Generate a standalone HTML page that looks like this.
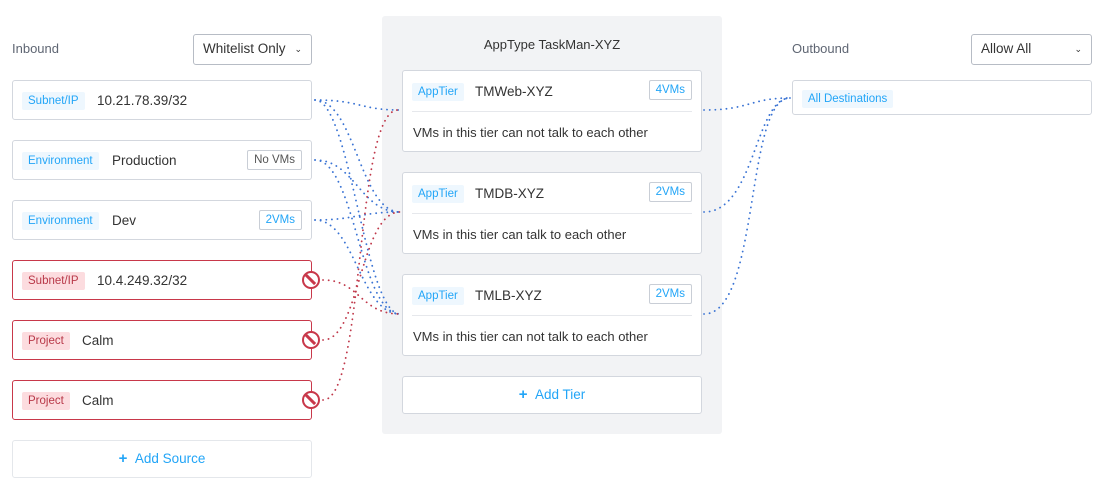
<!DOCTYPE html>
<html><head><meta charset="utf-8"><style>
*{box-sizing:border-box;margin:0;padding:0}
body{width:1105px;height:492px;background:#fff;font-family:"Liberation Sans",sans-serif;color:#333;position:relative;overflow:hidden}
.abs{position:absolute}
.lbl{font-size:13px;color:#5f6673}
.dd{border:1px solid #b7bcc5;border-radius:3px;background:#fff;font-size:13.5px;color:#333;padding:0 0 0 9px;line-height:28px}
.dd span{position:absolute;right:9px;top:0;font-size:9px}
.box{border:1px solid #d3d7de;border-radius:3px;background:#fff;height:40px}
.box.red{border-color:#c8384a}
.tag{position:absolute;left:9px;top:11px;height:18px;line-height:19px;font-size:11.5px;padding:0 6px;border-radius:2px;background:#eef7fe;color:#22a5f7}
.red .tag{background:#fcdcdf;color:#b83848}
.txt{position:absolute;top:11px;font-size:13.5px;color:#333;line-height:17px}
.cnt{position:absolute;right:9px;top:9px;height:20px;line-height:19px;font-size:11.5px;padding:0 6px;border:1px solid #c9ced6;border-radius:2px;color:#22a5f7}
.ban{position:absolute;right:-9px;top:10px;width:18px;height:18px;border-radius:50%;border:2.5px solid #c8384a;background:#fff}
.ban:after{content:"";position:absolute;left:0;top:5px;width:13px;height:3px;background:#c8384a;transform:rotate(45deg)}
.add{border:1px solid #e4e7eb;border-radius:3px;background:#fff;text-align:center;color:#22a5f7;font-size:13.5px}
.tier{position:absolute;left:402px;width:300px;height:82px;border:1px solid #d3d7de;border-radius:3px;background:#fff}
.tier .tag{left:9px;top:12px}
.tier .txt{left:72px;top:12px}
.tier .cnt{top:9px}
.tier .hr{position:absolute;left:9px;right:9px;top:40px;border-top:1px solid #e6e8ec}
.tier .desc{position:absolute;left:10px;top:54px;font-size:13px;color:#333}
</style></head><body>
<div class="abs lbl" style="left:12px;top:41px">Inbound</div>
<div class="abs dd" style="left:193px;top:34px;width:119px;height:31px">Whitelist Only<span>&#8964;</span></div>

<div class="abs box" style="left:12px;top:80px;width:300px"><div class="tag">Subnet/IP</div><div class="txt" style="left:84px">10.21.78.39/32</div></div>
<div class="abs box" style="left:12px;top:140px;width:300px"><div class="tag">Environment</div><div class="txt" style="left:99px">Production</div><div class="cnt" style="color:#555">No VMs</div></div>
<div class="abs box" style="left:12px;top:200px;width:300px"><div class="tag">Environment</div><div class="txt" style="left:99px">Dev</div><div class="cnt">2VMs</div></div>
<div class="abs box red" style="left:12px;top:260px;width:300px"><div class="tag">Subnet/IP</div><div class="txt" style="left:84px">10.4.249.32/32</div><div class="ban"></div></div>
<div class="abs box red" style="left:12px;top:320px;width:300px"><div class="tag">Project</div><div class="txt" style="left:69px">Calm</div><div class="ban"></div></div>
<div class="abs box red" style="left:12px;top:380px;width:300px"><div class="tag">Project</div><div class="txt" style="left:69px">Calm</div><div class="ban"></div></div>
<div class="abs add" style="left:12px;top:440px;width:300px;height:38px;line-height:36px"><b style="font-size:15px">+</b>&nbsp;&nbsp;Add Source</div>

<div class="abs" style="left:382px;top:16px;width:340px;height:418px;background:#f2f3f5;border-radius:3px"></div>
<div class="abs" style="left:382px;top:37px;width:340px;text-align:center;font-size:13px;color:#333">AppType TaskMan-XYZ</div>
<div class="tier" style="top:70px"><div class="tag">AppTier</div><div class="txt">TMWeb-XYZ</div><div class="cnt">4VMs</div><div class="hr"></div><div class="desc">VMs in this tier can not talk to each other</div></div>
<div class="tier" style="top:172px"><div class="tag">AppTier</div><div class="txt">TMDB-XYZ</div><div class="cnt">2VMs</div><div class="hr"></div><div class="desc">VMs in this tier can talk to each other</div></div>
<div class="tier" style="top:274px"><div class="tag">AppTier</div><div class="txt">TMLB-XYZ</div><div class="cnt">2VMs</div><div class="hr"></div><div class="desc">VMs in this tier can not talk to each other</div></div>
<div class="abs add" style="left:402px;top:376px;width:300px;height:38px;line-height:36px;border-color:#d3d7de"><b style="font-size:15px">+</b>&nbsp;&nbsp;Add Tier</div>

<div class="abs lbl" style="left:792px;top:41px">Outbound</div>
<div class="abs dd" style="left:971px;top:34px;width:121px;height:31px">Allow All<span>&#8964;</span></div>
<div class="abs box" style="left:792px;top:80px;width:300px;height:35px"><div class="tag" style="top:9px">All Destinations</div></div>

<svg class="abs" style="left:0;top:0" width="1105" height="492" fill="none" stroke-width="1.8" stroke-linecap="round" stroke-dasharray="0.1 5.5">
<g stroke="#3b74d4">
<path d="M315 100 C360 100 360 110 400 110"/>
<path d="M315 100 C355 100 360 212 400 212"/>
<path d="M315 100 C350 100 365 314 400 314"/>
<path d="M315 160 C355 160 360 212 400 212"/>
<path d="M315 160 C355 160 360 314 400 314"/>
<path d="M315 220 C355 220 360 314 400 314"/>
<path d="M315 220 C355 220 360 212 400 212"/>
<path d="M704 110 C750 110 750 98 790 98"/>
<path d="M704 212 C755 212 755 98 790 98"/>
<path d="M704 314 C760 314 745 98 790 98"/>
</g>
<g stroke="#c0394b">
<path d="M323 280 C360 280 360 314 400 314"/>
<path d="M323 340 C360 340 360 212 400 212"/>
<path d="M323 400 C365 400 355 110 398 110"/>
</g>
</svg>
</body></html>
